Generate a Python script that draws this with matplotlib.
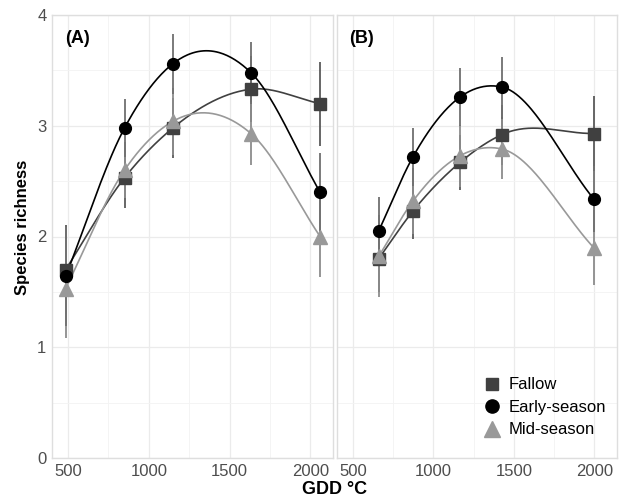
import numpy as np
import matplotlib.pyplot as plt
from matplotlib.lines import Line2D

plt.rcParams['font.family'] = ['Liberation Sans', 'DejaVu Sans']

# panel A
gdd_a = [485, 850, 1149, 1632, 2060]
fallow_a = [1.70, 2.53, 2.98, 3.33, 3.20]
fallow_a_se = [0.40, 0.27, 0.27, 0.30, 0.38]
early_a = [1.64, 2.98, 3.56, 3.48, 2.40]
early_a_se = [0.45, 0.26, 0.27, 0.28, 0.35]
mid_a = [1.53, 2.60, 3.04, 2.93, 2.00]
mid_a_se = [0.45, 0.25, 0.30, 0.28, 0.37]

# panel B
gdd_b = [660, 873, 1166, 1425, 1995]
fallow_b = [1.80, 2.23, 2.67, 2.92, 2.93]
fallow_b_se = [0.30, 0.25, 0.25, 0.27, 0.34]
early_b = [2.05, 2.72, 3.26, 3.35, 2.34]
early_b_se = [0.31, 0.26, 0.26, 0.27, 0.30]
mid_b = [1.82, 2.32, 2.73, 2.79, 1.90]
mid_b_se = [0.37, 0.30, 0.28, 0.27, 0.34]

labels = ['Fallow', 'Early-season', 'Mid-season']
colors = ['#404040', '#000000', '#999999']
bar_colors = ['#5a5a5a', '#707070', '#8c8c8c']
markers = ['s', 'o', '^']
msizes = [8, 8.5, 10]


def smooth(x, y, n=60):
    # cubic hermite through the points, slopes from a 3-point parabola fit
    x = np.asarray(x, float)
    y = np.asarray(y, float)
    k = len(x)
    h = np.diff(x)
    d = np.diff(y) / h
    m = np.zeros(k)
    m[0] = d[0]
    m[-1] = d[-1]
    for i in range(1, k - 1):
        m[i] = (h[i] * d[i - 1] + h[i - 1] * d[i]) / (h[i - 1] + h[i])
    xs_all, ys_all = [], []
    t = np.linspace(0, 1, n)
    h00 = 2 * t ** 3 - 3 * t ** 2 + 1
    h10 = t ** 3 - 2 * t ** 2 + t
    h01 = -2 * t ** 3 + 3 * t ** 2
    h11 = t ** 3 - t ** 2
    for i in range(k - 1):
        xs_all.append(x[i] + t * h[i])
        ys_all.append(h00 * y[i] + h10 * h[i] * m[i] + h01 * y[i + 1] + h11 * h[i] * m[i + 1])
    return np.concatenate(xs_all), np.concatenate(ys_all)


fig = plt.figure(figsize=(6.22, 5), dpi=100)
axA = fig.add_axes([52 / 622, 42 / 500, 281 / 622, 443 / 500])
axB = fig.add_axes([337 / 622, 42 / 500, 280 / 622, 443 / 500])

panels = [
    (axA, gdd_a, [fallow_a, early_a, mid_a], [fallow_a_se, early_a_se, mid_a_se], '(A)'),
    (axB, gdd_b, [fallow_b, early_b, mid_b], [fallow_b_se, early_b_se, mid_b_se], '(B)'),
]

for ax, gdd, series, ses, tag in panels:
    ax.set_xlim(401, 2140)
    ax.set_ylim(0, 4)
    ax.set_xticks([500, 1000, 1500, 2000])
    ax.set_xticks([750, 1250, 1750], minor=True)
    ax.set_yticks([0, 1, 2, 3, 4])
    ax.set_yticks([0.5, 1.5, 2.5, 3.5], minor=True)
    ax.grid(which='major', color='#ebebeb', lw=0.9)
    ax.grid(which='minor', color='#f3f3f3', lw=0.6)
    ax.set_axisbelow(True)
    for s in ax.spines.values():
        s.set_color('#dedede')
        s.set_linewidth(1.0)
    ax.tick_params(which='both', length=0, labelsize=12, colors='#4d4d4d', pad=4)
    ax.text(0.045, 0.948, tag, transform=ax.transAxes, fontsize=13,
            fontweight='bold', va='center', ha='left')
    for i in [0, 2, 1]:
        xs, ys = smooth(gdd, series[i])
        ax.plot(xs, ys, color=colors[i], lw=1.2, zorder=2)
    for i in [0, 2, 1]:
        ax.errorbar(gdd, series[i], yerr=ses[i], fmt='none', ecolor=bar_colors[i],
                    elinewidth=1.3, capsize=0, zorder=3)
    for i in [0, 2, 1]:
        ax.plot(gdd, series[i], ls='none', marker=markers[i], ms=msizes[i],
                color=colors[i], mec=colors[i], zorder=4)

axB.tick_params(axis='y', labelleft=False)

fig.text(23 / 622, 1 - 227 / 500, 'Species richness', rotation=90, fontsize=12,
         fontweight='bold', ha='center', va='center')
fig.text(334.5 / 622, 1 - 490 / 500, 'GDD °C', fontsize=13, fontweight='bold',
         ha='center', va='center')

handles = [Line2D([], [], ls='none', marker=markers[i], ms=msizes[i] + 1,
                  color=colors[i]) for i in range(3)]
axB.legend(handles, labels, loc='upper left', bbox_to_anchor=(475 / 622, 1 - 369 / 500),
           bbox_transform=fig.transFigure, frameon=False, fontsize=12,
           handlelength=1.0, handletextpad=0.5, labelspacing=0.45, borderpad=0)

fig.savefig('out.png', dpi=100)
